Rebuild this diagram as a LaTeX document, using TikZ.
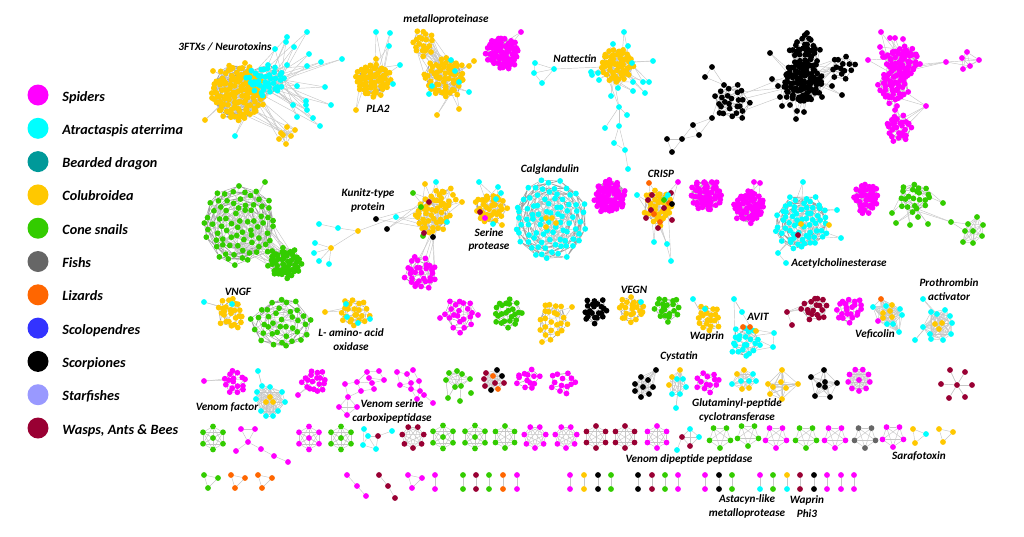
\documentclass[tikz,border=0pt]{standalone}
\usepackage{fontspec}
\usepackage{etoolbox}
\setmainfont{Carlito}
\usetikzlibrary{positioning}

\definecolor{cSpider}{HTML}{FF00FF}
\definecolor{cAtract}{HTML}{00FFFF}
\definecolor{cDragon}{HTML}{009999}
\definecolor{cColub}{HTML}{FFC800}
\definecolor{cCone}{HTML}{33CC00}
\definecolor{cFish}{HTML}{666666}
\definecolor{cLizard}{HTML}{FF6600}
\definecolor{cScolo}{HTML}{3333FF}
\definecolor{cScorp}{HTML}{000000}
\definecolor{cStar}{HTML}{9999FF}
\definecolor{cWasp}{HTML}{990033}
\definecolor{cLink}{HTML}{C6C6C6}
\definecolor{cLinkDense}{HTML}{A0A0A0}

\pgfdeclarelayer{links}
\pgfsetlayers{links,main}

\tikzset{
    dot/.style={circle,inner sep=0pt,minimum size=5.8pt,fill=#1},
    legdot/.style={circle,inner sep=0pt,minimum size=21pt,fill=#1},
    link/.style={draw=cLink,line width=0.45pt},
    denselink/.style={draw=cLinkDense,line width=0.45pt},
    tag/.style={font=\bfseries\itshape\fontsize{11.2}{13.5}\selectfont,align=center,inner sep=0pt},
    legtag/.style={font=\bfseries\itshape\fontsize{14.2}{16}\selectfont,inner sep=0pt,text height=9pt,text depth=3pt}
}

% links are only noted while the dots go down, and drawn together at the end
\newcommand{\linkstore}{}
\newcommand{\blobdraw}[2]{
    \gdef\blobpath{}
    \gdef\randpath{}
    \foreach \kk in {9,...,#2} {
        \pgfmathtruncatemacro{\ja}{\kk-3}
        \pgfmathtruncatemacro{\jb}{\kk-5}
        \pgfmathtruncatemacro{\jc}{\kk-8}
        \pgfmathtruncatemacro{\jr}{random(1,\kk-1)}
        \xappto\blobpath{(#1-\kk)--(#1-\ja) (#1-\kk)--(#1-\jb) (#1-\kk)--(#1-\jc) }
        \xappto\randpath{(#1-\kk)--(#1-\jr) }
    }
    \edef\blobcmd{\noexpand\draw[denselink] \blobpath; \noexpand\draw[link] \randpath;}
    \blobcmd
}
\newcommand{\spokedraw}[3]{
    \foreach \i in {1,...,#3} {
        \foreach \r in {1,2} {
            \pgfmathtruncatemacro{\j}{random(1,#2)}
            \draw[link] (#1-\i) -- (\spoketarget-\j);
        }
    }
}
\newcommand{\bridgedraw}[5]{
    \foreach \r in {1,...,#5} {
        \pgfmathtruncatemacro{\p}{random(1,#2)}
        \pgfmathtruncatemacro{\q}{random(1,#4)}
        \draw[link] (#1-\p) -- (#3-\q);
    }
}
\newcommand{\listdraw}[2]{
    \foreach \p/\q in {#2} {
        \draw[link] (#1-\p) -- (#1-\q);
    }
}
\newcommand{\meshdraw}[2]{
    \foreach \p in {2,...,#2} {
        \pgfmathtruncatemacro{\prev}{\p-1}
        \foreach \q in {1,...,\prev} {
            \draw[link] (#1-\p) -- (#1-\q);
        }
    }
}
\newcommand{\hubdraw}[2]{
    \foreach \k in {1,...,#2} {
        \draw[link] (#1-hub) -- (#1-\k);
    }
}

% packed cluster: name, cx, cy, rx, ry, size (at least 9), colour
\newcommand{\blob}[7]{
    \foreach \k in {1,...,#6} {
        \pgfmathsetmacro{\rad}{sqrt((\k-0.5)/#6)}
        \pgfmathsetmacro{\ang}{mod(13.7508*\k,36)*10}
        \node[dot=#7] (#1-\k) at ({#2+#4*\rad*cos(\ang)+rand*2},{#3+#5*\rad*sin(\ang)+rand*2}) {};
    }
    \xappto\linkstore{\noexpand\blobdraw{#1}{#6}}
}

% single members around a cluster: name, target, target size, colour, x/y list
\newcommand{\spokes}[5]{
    \foreach \x/\y [count=\i] in {#5} {
        \node[dot=#4] (#1-\i) at (\x,\y) {};
        \xdef\netsize{\i}
    }
    \xappto\linkstore{\noexpand\def\noexpand\spoketarget{#2}\noexpand\spokedraw{#1}{#3}{\netsize}}
}

% random links between two clusters: a, size a, b, size b, how many
\newcommand{\bridge}[5]{
    \xappto\linkstore{\noexpand\bridgedraw{#1}{#2}{#3}{#4}{#5}}
}

% one link between two named members
\newcommand{\linkpair}[2]{
    \xappto\linkstore{\noexpand\draw[link] (#1) -- (#2);}
}

% free placed members: name, x/y/colour list
\newcommand{\dotlist}[2]{
    \foreach \x/\y/\col [count=\i] in {#2} {
        \node[dot=\col] (#1-\i) at (\x,\y) {};
        \xdef\netsize{\i}
    }
}

% links by member number: name, p/q list
\newcommand{\linklist}[2]{
    \xappto\linkstore{\noexpand\listdraw{#1}{#2}}
}

% fully linked group at given places: name, x/y/colour list
\newcommand{\graphnet}[2]{
    \dotlist{#1}{#2}
    \xappto\linkstore{\noexpand\meshdraw{#1}{\netsize}}
}

% fully linked ring: name, cx, cy, r, size, colour
\newcommand{\ringnet}[6]{
    \foreach \k in {1,...,#5} {
        \node[dot=#6] (#1-\k) at ({#2+#4*cos(90+\k*360/#5)},{#3+#4*sin(90+\k*360/#5)}) {};
    }
    \xappto\linkstore{\noexpand\meshdraw{#1}{#5}}
}

% middle member of a ring: name, cx, cy, colour, ring size
\newcommand{\hubdot}[5]{
    \node[dot=#4] (#1-hub) at (#2,#3) {};
    \xappto\linkstore{\noexpand\hubdraw{#1}{#5}}
}

\begin{document}
\begin{tikzpicture}[x=1pt,y=-1pt]
    \useasboundingbox (0,0) rectangle (1024,536);
    \pgfmathsetseed{2024}

    % Legend
    \foreach \col/\txt [count=\i] in {cSpider/Spiders, cAtract/Atractaspis aterrima, cDragon/Bearded dragon, cColub/Colubroidea, cCone/Cone snails, cFish/Fishs, cLizard/Lizards, cScolo/Scolopendres, cScorp/Scorpiones, cStar/Starfishes, cWasp/{Wasps, Ants \& Bees}} {
        \node[legdot=\col] (leg-\i) at (38,{95+33.3*(\i-1)}) {};
        \node[legtag,right=13.5pt of leg-\i,yshift=-3pt] (legtxt-\i) {\txt};
    }

    % Top row: neurotoxins
    \blob{ntx}{238}{93}{26}{28}{120}{cColub}
    \blob{ntc}{266}{80}{20}{15}{40}{cAtract}
    \bridge{ntx}{120}{ntc}{40}{60}
    \spokes{ntca}{ntc}{40}{cAtract}{287/37,307/32,286/42,294/47,275/49,309/54,321/62,342/59,307/66,287/65,297/86,325/87,306/101,331/105,293/105,306/105,307/110,297/117,313/118,320/126,235/136}
    \spokes{ntxa}{ntx}{120}{cColub}{205/120,213/71,245/63,214/88,212/98}
    \graphnet{nts}{287/127/cColub,295/130/cColub,281/133/cColub,291/136/cColub,279/139/cColub,286/144/cColub,283/135/cColub}
    \bridge{nts}{7}{ntx}{120}{10}

    % PLA2
    \blob{pla}{372}{80}{18}{17}{60}{cColub}
    \spokes{plaa}{pla}{60}{cAtract}{376/32,390/33,389/46,400/65,393/84}
    \spokes{plab}{pla}{60}{cColub}{356/110,376/59}

    % metalloproteinase
    \blob{mpa}{423}{43}{11}{14}{20}{cColub}
    \blob{mpb}{445}{77}{20}{20}{60}{cColub}
    \bridge{mpa}{20}{mpb}{60}{25}
    \spokes{mpc}{mpb}{60}{cColub}{474/61,469/66,459/109,437/115}
    \spokes{mpd}{mpb}{60}{cAtract}{451/60,469/92,429/94,432/86,459/82,455/71}

    % lone spider cluster
    \blob{spa}{503}{53}{16}{16}{75}{cSpider}
    \spokes{spb}{spa}{75}{cSpider}{521/32}

    % Nattectin
    \blob{nat}{617}{65}{16}{17}{55}{cColub}
    \spokes{nata}{nat}{55}{cAtract}{624/32,613/44,628/46,653/61,643/82,649/82,633/91,645/93,611/96,618/88,633/82,632/63,591/72,592/75,598/73,599/80}
    \dotlist{natb}{554/69/cAtract,535/63/cAtract,534/73/cAtract,542/83/cAtract,619/107/cAtract,627/115/cAtract,605/128/cAtract,619/126/cAtract,614/143/cAtract,625/150/cAtract,628/169/cAtract}
    \linklist{natb}{1/2,1/3,1/4,3/4,2/3,5/6,5/7,5/8,8/9,8/10,9/10,10/11}
    \linkpair{natb-1}{nat-30}
    \linkpair{natb-5}{nat-40}
    \linkpair{natb-5}{nat-35}

    % Scorpiones
    \blob{sca}{732}{102}{18}{17}{25}{cScorp}
    \dotlist{scb}{712/67/cScorp,705/77/cScorp,724/85/cScorp,712/118/cScorp,693/125/cScorp,699/135/cScorp,682/139/cScorp,667/139/cScorp,672/152/cScorp}
    \linklist{scb}{1/2,1/3,2/3,4/5,4/6,5/6,5/7,6/7,7/8,7/9,8/9}
    \blob{scc}{802}{82}{20}{21}{90}{cScorp}
    \blob{scd}{805}{53}{14}{17}{38}{cScorp}
    \blob{sce}{843}{67}{13}{13}{14}{cScorp}
    \bridge{scc}{90}{scd}{38}{30}
    \bridge{scc}{90}{sce}{14}{12}
    \bridge{scc}{90}{sca}{25}{4}
    \spokes{scf}{scc}{90}{cScorp}{770/53,772/79,778/86,782/106,790/105,797/111,804/112,796/119,822/97,832/86,842/95,780/97,801/97,808/99}
    \spokes{scg}{scd}{38}{cScorp}{807/33}
    \linkpair{scb-4}{sca-20}
    \linkpair{scb-3}{sca-18}

    % Spiders, right side
    \blob{rsa}{902}{62}{16}{16}{60}{cSpider}
    \blob{rsb}{893}{87}{14}{15}{42}{cSpider}
    \blob{rsc}{899}{128}{13}{13}{28}{cSpider}
    \bridge{rsa}{60}{rsb}{42}{20}
    \spokes{rsd}{rsa}{60}{cSpider}{881/32,890/38,895/38,903/39,880/47,882/53,883/57,868/60,920/64}
    \spokes{rse}{rsb}{42}{cSpider}{926/106,895/110,897/106}
    \bridge{rse}{3}{rsc}{28}{8}
    \graphnet{rsf}{962/58/cSpider,967/52/cSpider,979/60/cSpider,970/66/cSpider,963/69/cSpider}
    \spokes{rsg}{rsf}{5}{cSpider}{946/62}
    \bridge{rsg}{1}{rsa}{60}{3}

    % Second row: cone snails
    \blob{cna}{240}{225}{37}{40}{75}{cCone}
    \blob{cnb}{285}{263}{16}{15}{55}{cCone}
    \bridge{cna}{75}{cnb}{55}{30}
    \spokes{cnc}{cna}{75}{cCone}{265/182}

    % Kunitz
    \blob{kua}{432}{215}{18}{18}{40}{cColub}
    \blob{kub}{445}{197}{12}{9}{12}{cColub}
    \bridge{kua}{40}{kub}{12}{10}
    \spokes{kuc}{kua}{40}{cColub}{425/184,462/202}
    \spokes{kud}{kua}{40}{cAtract}{436/182,447/222}
    \spokes{kue}{kua}{40}{cCone}{413/193,421/207,423/236}
    \spokes{kuf}{kua}{40}{cWasp}{424/233,429/202}
    \spokes{kug}{kua}{40}{cScorp}{433/237,387/229,376/219}
    \dotlist{kuh}{396/217/cAtract,358/231/cColub,331/248/cColub,319/224/cAtract,338/228/cAtract,315/243/cAtract,314/253/cAtract,319/261/cAtract,329/264/cAtract}
    \linklist{kuh}{1/2,2/3,2/5,4/5,3/6,3/7,3/8,3/9}
    \bridge{kuh}{1}{kua}{40}{2}
    \blob{kui}{421}{273}{16}{17}{30}{cSpider}
    \bridge{kui}{30}{kua}{40}{6}

    % Serine protease
    \blob{sra}{490}{208}{16}{16}{35}{cColub}
    \spokes{srb}{sra}{35}{cAtract}{479/182,498/187,501/193,496/199,493/224}
    \spokes{src}{sra}{35}{cColub}{502/225}
    \spokes{srd}{sra}{35}{cWasp}{480/212}
    \spokes{sre}{sra}{35}{cSpider}{485/218}

    % Calglandulin
    \blob{cal}{550}{220}{36}{41}{85}{cAtract}
    \spokes{calb}{cal}{85}{cColub}{546/218,552/218,556/223,546/227}

    % CRISP
    \blob{spc}{610}{197}{16}{16}{70}{cSpider}
    \blob{cra}{658}{207}{14}{18}{34}{cColub}
    \spokes{crb}{cra}{34}{cWasp}{652/195,671/193,648/200,664/208,646/218,658/228,672/220,651/210}
    \spokes{crc}{cra}{34}{cLizard}{649/183,654/214,660/222,669/203}
    \spokes{crd}{cra}{34}{cAtract}{637/195,665/199,668/195,654/242,667/244,671/261}
    \spokes{cre}{cra}{34}{cSpider}{678/182}
    \spokes{crf}{cra}{34}{cScorp}{672/204}
    \spokes{crg}{cra}{34}{cCone}{664/200}

    % Row of spider clusters and Acetylcholinesterase
    \blob{spd}{706}{195}{16}{16}{55}{cSpider}
    \blob{spe}{749}{207}{15}{16}{60}{cSpider}
    \spokes{spf}{spe}{60}{cSpider}{754/182,760/183}
    \blob{ace}{802}{223}{27}{28}{65}{cAtract}
    \spokes{acea}{ace}{65}{cColub}{801/224,829/225}
    \spokes{aceb}{ace}{65}{cWasp}{798/235}
    \spokes{acec}{ace}{65}{cAtract}{803/182,837/210,841/238,778/253}
    \dotlist{aced}{786/263/cAtract}
    \linkpair{aced-1}{acec-4}
    \blob{spg}{866}{198}{12}{16}{42}{cSpider}
    \blob{cnd}{915}{197}{16}{16}{22}{cCone}
    \spokes{cne}{cnd}{22}{cCone}{943/203,892/213,896/223,910/225,928/224,918/217,951/222}
    \graphnet{cnf}{977/217/cCone,983/225/cCone,982/236/cCone,973/243/cCone,963/242/cCone,965/231/cCone,968/224/cCone,973/231/cCone}
    \linkpair{cne-7}{cnf-7}
    \linkpair{cne-7}{cnf-6}

    % Third row
    \blob{vng}{231}{313}{14}{16}{25}{cColub}
    \spokes{vnga}{vng}{25}{cAtract}{204/302,232/304}
    \blob{cng}{282}{323}{30}{26}{38}{cCone}
    \blob{lam}{355}{312}{14}{15}{22}{cColub}
    \spokes{lama}{lam}{22}{cColub}{325/312}
    \spokes{lamb}{lam}{22}{cAtract}{346/304,370/319,358/323,347/317}
    \blob{tha}{460}{315}{15}{17}{20}{cSpider}
    \spokes{thb}{tha}{20}{cSpider}{440/318,478/315}
    \blob{thc}{507}{313}{15}{15}{24}{cCone}
    \blob{thd}{553}{320}{15}{21}{22}{cColub}
    \spokes{the}{thd}{22}{cColub}{572/307,542/342}
    \blob{thf}{595}{310}{13}{13}{22}{cScorp}
    \blob{veg}{632}{309}{13}{13}{22}{cColub}
    \spokes{vega}{veg}{22}{cAtract}{641/302}
    \blob{thg}{668}{309}{13}{13}{20}{cCone}
    \blob{wap}{709}{318}{13}{13}{20}{cColub}
    \spokes{wapa}{wap}{20}{cAtract}{693/299,705/309}
    \blob{avi}{745}{342}{15}{15}{22}{cAtract}
    \spokes{avia}{avi}{22}{cLizard}{743/327,750/327}
    \spokes{avib}{avi}{22}{cColub}{756/331}
    \dotlist{avic}{734/299/cAtract,742/312/cAtract,774/333/cAtract,773/347/cAtract}
    \linklist{avic}{1/2,3/4}
    \bridge{avic}{4}{avi}{22}{6}
    \blob{thh}{815}{309}{13}{13}{18}{cWasp}
    \dotlist{thi}{787/312/cWasp,792/325/cWasp}
    \linklist{thi}{1/2}
    \bridge{thi}{2}{thh}{18}{3}
    \blob{thj}{850}{309}{13}{13}{22}{cSpider}
    \graphnet{vef}{873/307/cAtract,886/306/cAtract,900/309/cAtract,902/315/cAtract,887/324/cAtract,893/324/cAtract,899/332/cAtract,892/305/cColub,883/313/cColub,890/311/cColub,883/318/cColub,892/317/cColub,881/299/cLizard,878/321/cSpider}
    \graphnet{pro}{931/312/cAtract,937/314/cAtract,945/310/cAtract,950/316/cAtract,952/323/cAtract,951/334/cAtract,943/340/cAtract,931/339/cAtract,923/327/cAtract,930/334/cAtract,935/324/cColub,942/323/cColub,939/329/cColub}
    \spokes{proa}{pro}{13}{cAtract}{915/340,923/299}

    % Fourth row
    \blob{fra}{235}{382}{12}{11}{16}{cSpider}
    \spokes{frb}{fra}{16}{cSpider}{204/381}
    \graphnet{frc}{262/386/cAtract,270/387/cAtract,282/392/cAtract,257/392/cAtract,256/399/cAtract,285/402/cAtract,261/411/cAtract,266/416/cAtract,273/416/cAtract,278/411/cAtract,270/397/cColub,266/402/cColub,273/402/cColub}
    \spokes{frd}{frc}{1}{cAtract}{258/371}
    \blob{fre}{315}{382}{13}{12}{18}{cSpider}
    \spokes{frf}{fre}{18}{cSpider}{298/395}
    \dotlist{frg}{345/384/cSpider,367/372/cSpider,379/371/cSpider,357/382/cSpider,369/378/cSpider,384/380/cSpider,361/391/cSpider,372/383/cSpider,374/389/cSpider,348/397/cSpider,339/407/cSpider,357/407/cSpider,347/415/cSpider}
    \linklist{frg}{1/4,4/2,2/3,2/5,3/6,5/8,4/7,4/8,7/9,8/9,5/6,1/10,7/10,10/11,10/12,10/13,11/12,11/13,12/13,2/4,8/6}
    \dotlist{frh}{397/372/cSpider,407/374/cSpider,413/370/cSpider,411/383/cSpider,419/381/cSpider,400/385/cSpider,411/389/cSpider,420/391/cSpider,424/395/cSpider,417/399/cSpider,433/403/cSpider}
    \linklist{frh}{1/2,2/3,1/6,2/4,3/5,4/5,4/6,4/7,5/8,7/8,6/7,8/9,7/10,9/10,9/11,8/10}
    \graphnet{fri}{457/371/cCone,449/373/cCone,462/374/cCone,446/380/cCone,470/379/cCone,455/387/cCone,461/386/cCone}
    \dotlist{frj}{471/393/cCone,448/398/cCone,460/401/cCone}
    \bridge{frj}{3}{fri}{7}{6}
    \graphnet{frk}{497/370/cScorp,486/373/cWasp,502/376/cScorp,493/376/cLizard,484/379/cWasp,504/383/cWasp,495/383/cWasp,485/386/cWasp,491/390/cScorp,498/389/cLizard}
    \blob{frl}{527}{380}{12}{11}{13}{cSpider}
    \blob{frm}{563}{383}{13}{12}{13}{cSpider}
    \graphnet{frn}{656/370/cScorp,641/377/cScorp,648/380/cScorp,635/384/cScorp,643/387/cScorp,653/387/cScorp,635/391/cScorp,641/397/cScorp,649/394/cScorp}
    \graphnet{fro}{680/370/cColub,672/377/cColub,669/385/cColub,672/394/cAtract,680/394/cAtract,677/379/cAtract,683/379/cAtract,686/387/cAtract}
    \spokes{frp}{fro}{1}{cAtract}{676/408}
    \blob{frq}{708}{382}{12}{12}{13}{cSpider}
    \graphnet{frr}{744/370/cColub,737/374/cColub,742/389/cColub,749/388/cColub,732/384/cAtract,741/381/cAtract,749/381/cAtract,753/374/cAtract,756/381/cAtract}
    \graphnet{frs}{782/370/cColub,768/384/cColub,781/382/cColub,786/388/cColub,798/384/cColub,770/394/cColub,782/399/cColub,773/387/cColub}
    \graphnet{frt}{824/370/cScorp,811/377/cScorp,825/382/cScorp,819/385/cScorp,825/387/cScorp,837/383/cScorp,815/396/cScorp,830/397/cScorp}
    \ringnet{fru}{859}{380}{11}{9}{cSpider}
    \hubdot{fru}{859}{380}{cSpider}{9}
    \dotlist{frv}{957/385/cWasp}
    \spokes{frw}{frv}{1}{cWasp}{950/370,965/372,941/384,972/385,949/398,965/397}

    % Fifth row
    \foreach \nm/\cx/\cy/\size/\col in {fa/213/438/6/cCone, fb/309/438/6/cSpider, fc/341/438/6/cCone, fd/443/437/6/cCone, fe/475/437/6/cCone} {
        \ringnet{\nm}{\cx}{\cy}{11.5}{\size}{\col}
        \hubdot{\nm}{\cx}{\cy}{\col}{\size}
    }
    \foreach \nm/\cx/\cy/\size/\col in {ff/413/437/7/cWasp, fg/505/437/6/cCone, fh/535/437/7/cSpider, fi/566/437/7/cSpider, fj/596/437/6/cWasp, fk/625/437/6/cWasp, fl/657/437/6/cSpider, fm/720/437/5/cCone, fn/748/435/5/cCone, fo/776/437/5/cSpider, fp/806/437/5/cCone, fq/835/437/5/cSpider, fr/865/437/5/cFish, fs/893/436/5/cSpider} {
        \ringnet{\nm}{\cx}{\cy}{11}{\size}{\col}
    }
    \dotlist{ft}{241/429/cSpider,255/429/cSpider,248/442/cSpider,236/451/cSpider,261/449/cSpider,274/456/cSpider,288/462/cSpider}
    \linklist{ft}{1/2,1/3,2/3,3/4,3/5,5/6,6/7}
    \dotlist{fu}{364/429/cAtract,368/436/cAtract,378/436/cWasp,392/431/cAtract,363/445/cAtract,376/449/cAtract}
    \linklist{fu}{1/2,1/5,2/5,2/6,5/6,3/2,3/6,3/4}
    \dotlist{fv}{690/429/cAtract,682/437/cWasp,699/437/cAtract,690/446/cWasp,677/450/cAtract}
    \linklist{fv}{1/2,1/3,1/4,2/3,2/4,3/4,2/5}
    \graphnet{fw}{913/429/cColub,926/434/cAtract,915/443/cColub}
    \graphnet{fx}{939/429/cColub,953/432/cColub,943/442/cColub}

    % Last row: triangles, chains and pairs
    \graphnet{ga}{204/475/cCone,218/478/cCone,208/488/cCone}
    \graphnet{gb}{231/475/cLizard,245/478/cLizard,235/488/cLizard}
    \graphnet{gc}{258/475/cLizard,272/478/cLizard,262/488/cLizard}
    \dotlist{gd}{347/475/cSpider,357/486/cSpider,366/496/cSpider}
    \linklist{gd}{1/2,2/3}
    \dotlist{ge}{379/475/cWasp,388/486/cWasp,395/498/cWasp}
    \linklist{ge}{1/2,2/3}
    \graphnet{gf}{408/475/cSpider,422/478/cSpider,412/488/cSpider}
    \foreach \x/\top/\bot [count=\i] in {435/cSpider/cSpider, 463/cCone/cCone, 476/cWasp/cWasp, 489/cCone/cCone, 503/cLizard/cLizard, 517/cSpider/cSpider, 570/cSpider/cSpider, 584/cColub/cColub, 598/cScorp/cScorp, 611/cCone/cCone, 638/cScorp/cScorp, 652/cWasp/cWasp, 665/cCone/cCone, 678/cSpider/cSpider, 705/cSpider/cSpider, 719/cScorp/cScorp, 732/cCone/cCone, 760/cSpider/cAtract, 773/cCone/cCone, 787/cColub/cAtract, 800/cWasp/cWasp, 814/cScorp/cScorp, 827/cSpider/cSpider, 841/cSpider/cSpider, 854/cSpider/cSpider} {
        \node[dot=\top] (pt-\i) at (\x,475) {};
        \node[dot=\bot] (pb-\i) at (\x,489) {};
        \linkpair{pt-\i}{pb-\i}
    }

    % Labels
    \node[tag] (lbl-ntx) at (225,47) {3FTXs / Neurotoxins};
    \node[tag] (lbl-mp) at (446,19) {metalloproteinase};
    \node[tag] (lbl-pla) at (378,109) {PLA2};
    \node[tag] (lbl-nat) at (575,59) {Nattectin};
    \node[tag] (lbl-cal) at (550,170) {Calglandulin};
    \node[tag] (lbl-cri) at (661,174) {CRISP};
    \node[tag] (lbl-kun) at (368,200.5) {Kunitz-type\\protein};
    \node[tag] (lbl-ser) at (489,240) {Serine\\protease};
    \node[tag] (lbl-ace) at (839,263) {Acetylcholinesterase};
    \node[tag] (lbl-pro) at (949,289.5) {Prothrombin\\activator};
    \node[tag] (lbl-vng) at (238,292) {VNGF};
    \node[tag] (lbl-lam) at (351,339.5) {L- amino- acid\\oxidase};
    \node[tag] (lbl-veg) at (634,290) {VEGN};
    \node[tag] (lbl-wap) at (707,336) {Waprin};
    \node[tag] (lbl-avi) at (758,317) {AVIT};
    \node[tag] (lbl-vef) at (875,334) {Veficolin};
    \node[tag] (lbl-cys) at (679,356) {Cystatin};
    \node[tag] (lbl-glu) at (737,410.5) {Glutaminyl-peptide\\cyclotransferase};
    \node[tag] (lbl-vfa) at (227,407) {Venom factor};
    \node[tag] (lbl-vsc) at (392,411.5) {Venom serine\\carboxipeptidase};
    \node[tag] (lbl-vdp) at (689,459) {Venom dipeptide peptidase};
    \node[tag] (lbl-sar) at (919,456) {Sarafotoxin};
    \node[tag] (lbl-ast) at (747,506.5) {Astacyn-like\\metalloprotease};
    \node[tag] (lbl-phi) at (807,506.5) {Waprin\\Phi3};

    % All the links, under the dots
    \begin{pgfonlayer}{links}
        \linkstore
    \end{pgfonlayer}
\end{tikzpicture}
\end{document}
